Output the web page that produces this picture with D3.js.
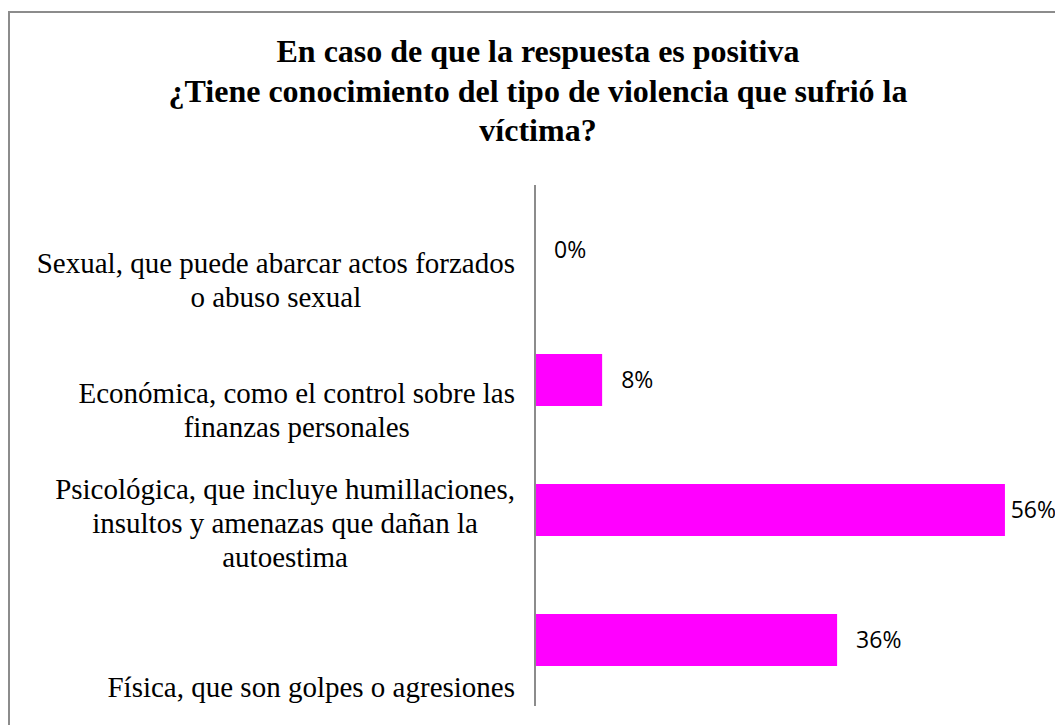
<!DOCTYPE html>
<html>
<head>
<meta charset="utf-8">
<script src="https://cdn.jsdelivr.net/npm/d3@7"></script>
<style>
  html, body { margin: 0; padding: 0; background: #ffffff; }
  svg { display: block; }
  .serif { font-family: "Liberation Serif", "Times New Roman", Tinos, "DejaVu Serif", serif; }
  .sans { font-family: "Open Sans", "Liberation Sans", Arial, sans-serif; }
</style>
</head>
<body>
<svg id="chart" width="1055" height="725"></svg>
<script>
// ---- data ----
const titleLines = [
  "En caso de que la respuesta es positiva",
  "¿Tiene conocimiento del tipo de violencia que sufrió la",
  "víctima?"
];
const categories = ["Sexual", "Económica", "Psicológica", "Física"];
const categoryLabels = [
  ["Sexual, que puede abarcar actos forzados", "o abuso sexual"],
  ["Económica, como el control sobre las", "finanzas personales"],
  ["Psicológica, que incluye humillaciones,", "insultos y amenazas que dañan la", "autoestima"],
  ["Física, que son golpes o agresiones"]
];
const values = [0, 0.08, 0.56, 0.36];

// ---- layout ----
const W = 1055, H = 725;
const axisX = 535, plotTop = 185, plotBottom = 705;
const svg = d3.select("#chart");

// frame (right/bottom edges cropped off like the reference)
svg.append("rect")
  .attr("x", 9).attr("y", 12)
  .attr("width", W + 20).attr("height", H + 20)
  .attr("fill", "#fff")
  .attr("stroke", "#8c8c8c").attr("stroke-width", 2);

// title
svg.append("g").selectAll("text")
  .data(titleLines).join("text")
  .attr("class", "serif")
  .attr("x", 538)
  .attr("y", (d, i) => 62 + i * 39.5)
  .attr("text-anchor", "middle")
  .attr("font-weight", "bold")
  .attr("font-size", 32)
  .attr("fill", "#000")
  .text(d => d);

// scales
const y = d3.scaleBand()
  .domain(categories)
  .range([plotTop, plotBottom])
  .paddingInner(0.6)
  .paddingOuter(0.3);
const x = d3.scaleLinear()
  .domain([0, 0.6])
  .range([axisX, axisX + 503.5]);

// bars
svg.append("g").selectAll("rect")
  .data(categories).join("rect")
  .attr("x", x(0))
  .attr("y", d => y(d))
  .attr("width", (d, i) => x(values[i]) - x(0))
  .attr("height", y.bandwidth())
  .attr("fill", "#ff00ff");

// axis line
const axis = d3.axisLeft(y).tickSize(0).tickFormat("");
const axG = svg.append("g").attr("transform", `translate(${axisX},0)`).call(axis);
axG.select(".domain").attr("stroke", "#8c8c8c").attr("stroke-width", 2)
  .attr("d", `M0,${plotTop}V${plotBottom + 1}`);

// category labels (bottom aligned within each band, block centred, right edge at 515)
const step = y.step();
const lineH = 34;
const labelG = svg.append("g");
categories.forEach((c, i) => {
  const lines = categoryLabels[i];
  const bandBottom = y(c) + y.bandwidth() / 2 + step / 2;
  const lastBase = bandBottom - 8;
  const g = labelG.append("g");
  const texts = g.selectAll("text").data(lines).join("text")
    .attr("class", "serif")
    .attr("y", (d, j) => lastBase - (lines.length - 1 - j) * lineH)
    .attr("text-anchor", "middle")
    .attr("font-size", 29)
    .attr("fill", "#000")
    .text(d => d);
  let maxW = 0;
  texts.each(function () { maxW = Math.max(maxW, this.getComputedTextLength()); });
  texts.attr("x", 515 - maxW / 2);
});

// value labels
const fmt = d3.format(".0%");
svg.append("g").selectAll("text")
  .data(categories).join("text")
  .attr("class", "sans")
  .attr("y", d => y(d) + y.bandwidth() / 2)
  .attr("dy", "0.36em")
  .attr("font-size", 23)
  .attr("fill", "#000")
  .text((d, i) => fmt(values[i]))
  .each(function (d, i) {
    const w = this.getComputedTextLength();
    const px = Math.min(x(values[i]) + 19, W + 1 - w);
    d3.select(this).attr("x", px);
  });
</script>
</body>
</html>
